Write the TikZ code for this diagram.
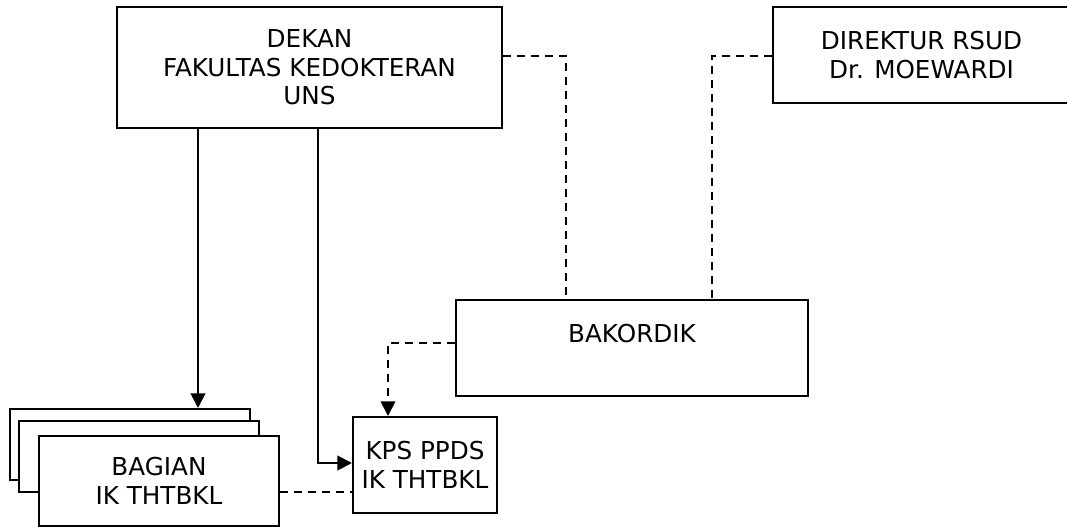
\documentclass[tikz,border=0pt]{standalone}
\usepackage{fontspec}
\setmainfont{DejaVu Sans}
\usetikzlibrary{arrows.meta}
\begin{document}
\begin{tikzpicture}[x=0.75pt, y=-0.75pt,
	kotak/.style={draw, line width=1.5pt, fill=white, align=center, inner sep=0pt, font=\fontsize{18.5}{21.5}\selectfont},
	garis/.style={line width=1.5pt},
	putus/.style={line width=1.3pt, dash pattern=on 6pt off 4.5pt},
	panah/.style={-{Triangle[length=11pt, width=11pt]}}]
	\useasboundingbox (0,0) rectangle (1067,527);
	\node[kotak, minimum width=288.75pt, minimum height=90.75pt] (dekan) at (309.5,67.5) {DEKAN\\FAKULTAS KEDOKTERAN\\UNS};
	\node[kotak, minimum width=222.75pt, minimum height=72pt] (direktur) at (921.5,55) {DIREKTUR RSUD\\Dr. MOEWARDI};
	\node[kotak, minimum width=264pt, minimum height=72pt] (bakordik) at (632,348) {BAKORDIK\\~};
	\node[kotak, minimum width=108pt, minimum height=72pt] (kps) at (425,465) {KPS PPDS\\IK THTBKL};
	\node[kotak, minimum width=180pt, minimum height=53.25pt] (bagian3) at (130,444.5) {};
	\node[kotak, minimum width=180pt, minimum height=53.25pt] (bagian2) at (139,456.5) {};
	\node[kotak, minimum width=180pt, minimum height=67.5pt] (bagian1) at (159,481) {BAGIAN\\IK THTBKL};
	% garis komando
	\draw[garis, panah] (dekan.south -| 198,0) -- (bagian3.north -| 198,0);
	\draw[garis, panah] (dekan.south -| 318,0) |- (kps.west |- 0,463);
	% garis koordinasi
	\draw[putus] (dekan.east |- 0,56) -| (bakordik.north -| 566,0);
	\draw[putus] (direktur.west |- 0,56) -| (bakordik.north -| 712,0);
	\draw[putus, panah] (bakordik.west |- 0,343) -| (kps.north -| 388,0);
	\draw[putus] (bagian1.east |- 0,492) -- (kps.west |- 0,492);
\end{tikzpicture}
\end{document}
